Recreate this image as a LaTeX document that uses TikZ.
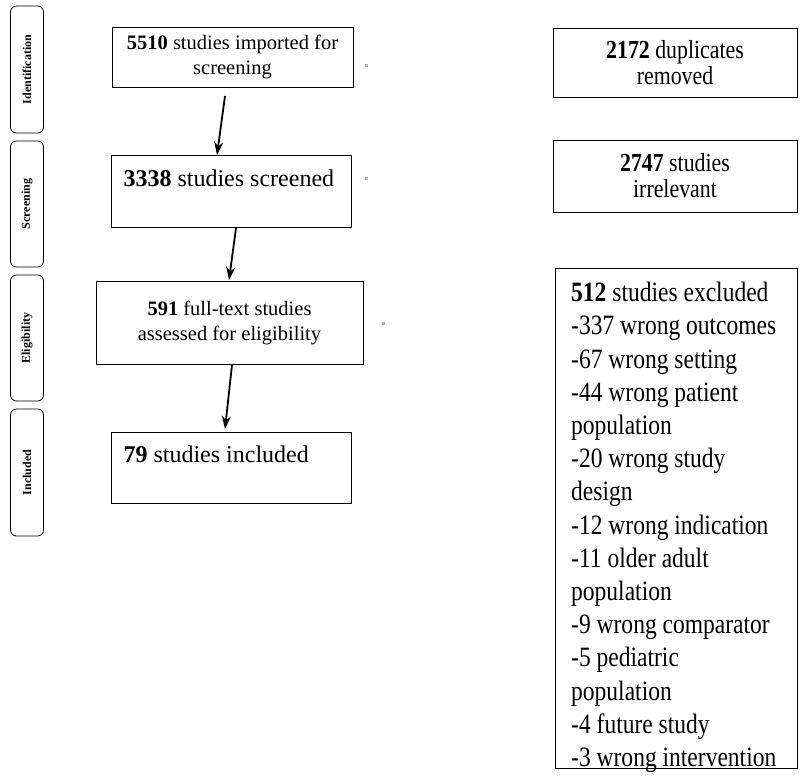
\documentclass[tikz,border=0pt]{standalone}
\usepackage{fontspec}
\setmainfont{Liberation Serif}
\newfontfamily\narrowserif[FakeStretch=0.84]{Liberation Serif}
\usetikzlibrary{arrows.meta}
\begin{document}
\begin{tikzpicture}[x=1pt,y=-1pt,
	stagebox/.style={draw,thick,rounded corners=6pt,minimum height=33pt,rotate=90,font=\fontsize{12}{14}\selectfont\bfseries},
	flowbox/.style={draw,minimum height=60pt,align=center,font=\fontsize{20.5}{25}\selectfont},
	sidebox/.style={draw,align=center,font=\narrowserif\fontsize{26}{26}\selectfont},
	flowarrow/.style={-{Stealth[length=13pt,width=9pt]},line width=1.8pt}]
	\useasboundingbox (0,0) rectangle (800,777);
	% stages
	\node[stagebox,minimum width=127pt] (ident) at (27,69.5) {Identification};
	\node[stagebox,minimum width=126pt] (screen) at (27,204) {Screening};
	\node[stagebox,minimum width=126pt] (elig) at (27,338) {Eligibility};
	\node[stagebox,minimum width=127pt] (incl) at (27,472.5) {Included};
	% main flow
	\node[flowbox,minimum width=241pt] (imported) at (232.5,57) {\textbf{5510} studies imported for\\screening};
	\node[flowbox,minimum width=240pt,minimum height=72pt] (screened) at (231,191) {};
	\node[anchor=west,font=\fontsize{24}{28}\selectfont] (screenedtxt) at (120,178) {\textbf{3338} studies screened};
	\node[flowbox,minimum width=267pt,minimum height=83pt] (fulltext) at (229.5,322.5) {\textbf{591} full-text studies\\assessed for eligibility};
	\node[flowbox,minimum width=240pt,minimum height=71pt] (included) at (231,467.5) {};
	\node[anchor=west,font=\fontsize{24}{28}\selectfont] (includedtxt) at (120,454) {\textbf{79} studies included};
	\coordinate (a1) at (225,96);
	\coordinate (a2) at (236,228);
	\coordinate (a3) at (232,365);
	\draw[flowarrow] (a1) -- (217,155);
	\draw[flowarrow] (a2) -- (229,280);
	\draw[flowarrow] (a3) -- (225,429);
	% gray marks
	\fill[gray!60] (365,64) rectangle (368,67);
	\fill[gray!60] (365,177) rectangle (368,180);
	\fill[gray!60] (382,322) rectangle (385,325);
	% side boxes
	\node[sidebox,minimum width=244pt,minimum height=69pt] (duplicates) at (675,62.5) {\textbf{2172} duplicates\\removed};
	\node[sidebox,minimum width=244pt,minimum height=72pt] (irrelevant) at (675,176) {\textbf{2747} studies\\irrelevant};
	\draw (555,268) rectangle (797,768);
	\node[anchor=north west,align=left,inner sep=0pt,font=\narrowserif\fontsize{28}{33.2}\selectfont] (excluded) at (571,282)
	{\textbf{512} studies excluded\\-337 wrong outcomes\\-67 wrong setting\\-44 wrong patient\\population\\-20 wrong study\\design\\-12 wrong indication\\-11 older adult\\population\\-9 wrong comparator\\-5 pediatric\\population\\-4 future study\\-3 wrong intervention};
\end{tikzpicture}
\end{document}
